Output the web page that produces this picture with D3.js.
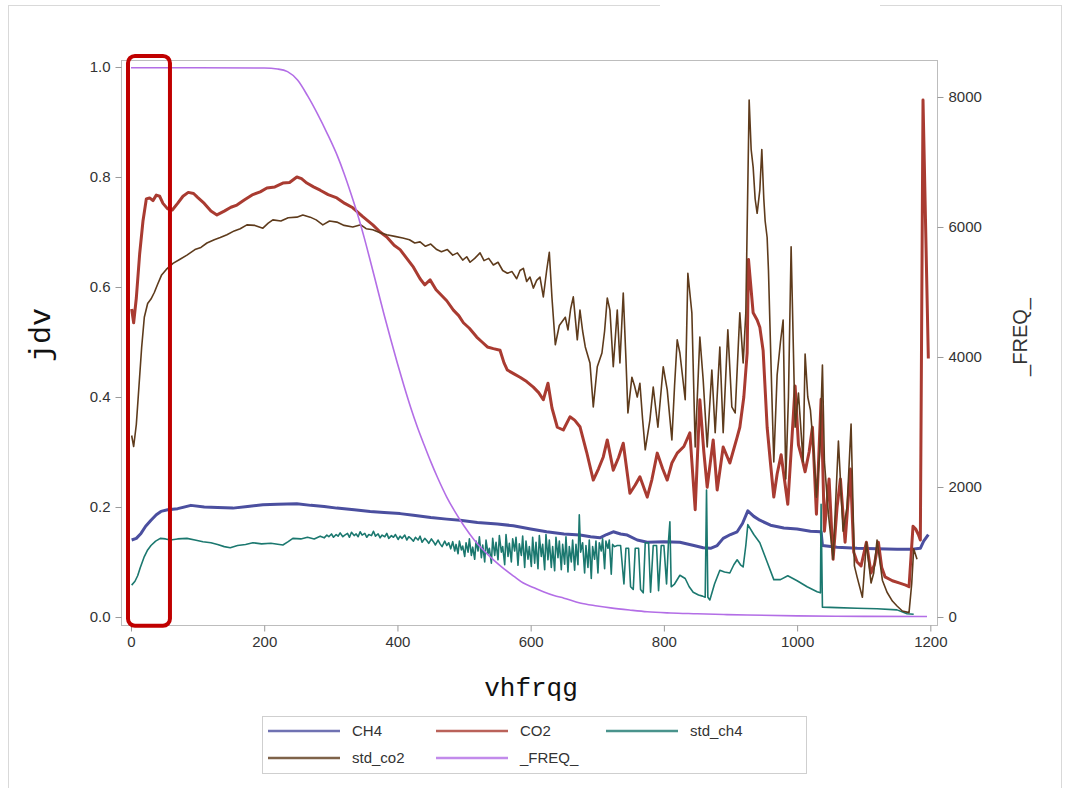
<!DOCTYPE html>
<html>
<head>
<meta charset="utf-8">
<script src="https://cdn.jsdelivr.net/npm/d3@7"></script>
<style>
  html, body { margin: 0; padding: 0; background: #fff; }
  .tick text { font-family: "Liberation Sans", Arial, sans-serif; font-size: 15px; fill: #333; }
  .tick line { stroke: #9a9a9a; }
  .domain { display: none; }
  .mono-title { font-family: "Liberation Mono", "Courier New", monospace; fill: #111; }
  .sans-title { font-family: "Liberation Sans", Arial, sans-serif; font-size: 20px; fill: #333; }
  .legend text { font-family: "Liberation Sans", Arial, sans-serif; font-size: 15px; fill: #333; }
  .series { fill: none; stroke-linejoin: round; }
</style>
</head>
<body>
<div id="chart"></div>
<script>
// SAS-style overlay: four gas series on the left axis, _FREQ_ on the right axis.
const xTicks = [0, 200, 400, 600, 800, 1000, 1200];
const yLeftTicks = [0, 0.2, 0.4, 0.6, 0.8, 1.0];
const yRightTicks = [0, 2000, 4000, 6000, 8000];

const ch4 = [[1,0.140],[8,0.143],[15,0.152],[22,0.165],[30,0.176],[38,0.186],[45,0.192],[55,0.195],[70,0.197],[90,0.203],[110,0.200],[130,0.199],[153,0.198],[175,0.201],[198,0.204],[220,0.205],[249,0.206],[270,0.203],[290,0.201],[309,0.198],[335,0.195],[359,0.192],[380,0.190],[404,0.188],[424,0.185],[450,0.181],[474,0.178],[494,0.176],[520,0.172],[550,0.169],[574,0.166],[600,0.160],[624,0.155],[650,0.151],[674,0.149],[690,0.146],[704,0.144],[714,0.150],[724,0.155],[735,0.151],[745,0.149],[760,0.140],[775,0.136],[800,0.137],[824,0.136],[845,0.130],[859,0.126],[870,0.125],[880,0.130],[889,0.143],[900,0.150],[910,0.155],[918,0.170],[926,0.193],[935,0.183],[944,0.176],[960,0.167],[980,0.162],[1000,0.160],[1020,0.156],[1036,0.155],[1038,0.130],[1060,0.127],[1090,0.125],[1120,0.124],[1150,0.123],[1170,0.123],[1185,0.125],[1190,0.138],[1197,0.150]];

const co2 = [[1,0.560],[4,0.535],[8,0.58],[13,0.66],[18,0.72],[23,0.760],[28,0.762],[33,0.757],[38,0.767],[43,0.765],[48,0.752],[55,0.742],[62,0.740],[70,0.752],[78,0.765],[86,0.772],[94,0.770],[100,0.763],[110,0.752],[120,0.738],[129,0.731],[140,0.738],[150,0.745],[159,0.749],[170,0.758],[183,0.768],[194,0.773],[204,0.780],[216,0.782],[228,0.789],[238,0.790],[249,0.800],[256,0.797],[264,0.789],[274,0.782],[284,0.776],[296,0.768],[309,0.762],[321,0.752],[333,0.744],[348,0.728],[363,0.713],[374,0.700],[384,0.691],[395,0.676],[404,0.668],[414,0.652],[424,0.636],[434,0.615],[441,0.604],[449,0.613],[458,0.595],[466,0.585],[474,0.575],[484,0.558],[492,0.548],[499,0.535],[508,0.525],[519,0.509],[527,0.500],[535,0.491],[544,0.488],[554,0.485],[560,0.462],[565,0.449],[575,0.442],[584,0.436],[594,0.428],[604,0.418],[612,0.408],[619,0.395],[626,0.425],[632,0.380],[640,0.345],[649,0.340],[659,0.364],[666,0.358],[674,0.346],[684,0.300],[694,0.249],[702,0.270],[709,0.291],[715,0.322],[724,0.267],[732,0.290],[739,0.316],[749,0.225],[757,0.240],[764,0.255],[775,0.218],[782,0.250],[790,0.298],[798,0.270],[805,0.249],[812,0.280],[820,0.298],[830,0.310],[839,0.335],[847,0.195],[854,0.395],[860,0.300],[865,0.236],[874,0.322],[880,0.231],[889,0.309],[899,0.280],[910,0.327],[914,0.345],[920,0.400],[925,0.480],[927,0.650],[934,0.553],[940,0.540],[944,0.527],[949,0.484],[955,0.345],[960,0.280],[965,0.218],[970,0.260],[976,0.295],[981,0.250],[986,0.205],[992,0.320],[997,0.420],[1002,0.313],[1007,0.290],[1012,0.264],[1018,0.300],[1023,0.345],[1029,0.187],[1036,0.396],[1041,0.156],[1048,0.251],[1054,0.105],[1060,0.200],[1065,0.251],[1072,0.136],[1080,0.269],[1085,0.118],[1090,0.100],[1096,0.093],[1104,0.136],[1111,0.080],[1116,0.095],[1122,0.136],[1127,0.090],[1132,0.073],[1143,0.066],[1153,0.062],[1163,0.058],[1168,0.055],[1171,0.110],[1174,0.165],[1178,0.160],[1182,0.150],[1185,0.140],[1189,0.940],[1197,0.470]];

const stdCh4 = [[1,0.058],[6,0.065],[10,0.075],[14,0.090],[20,0.110],[25,0.122],[30,0.130],[37,0.138],[44,0.143],[52,0.142],[59,0.140],[70,0.142],[84,0.143],[96,0.140],[108,0.137],[120,0.135],[130,0.132],[140,0.128],[149,0.126],[160,0.130],[172,0.132],[183,0.135],[196,0.133],[210,0.134],[228,0.131],[236,0.137],[243,0.143],[255,0.142],[265,0.145],[275,0.142],[284,0.147],
  [290,0.144],[294,0.149],[297,0.146],[301,0.151],[304,0.145],[308,0.150],[311,0.147],[314,0.153],[318,0.146],[321,0.149],[325,0.152],[328,0.145],[331,0.154],[335,0.148],[338,0.151],[341,0.146],[344,0.155],[347,0.149],[351,0.152],[354,0.145],[357,0.150],[361,0.148],[364,0.156],[367,0.147],[371,0.151],[374,0.144],[377,0.149],[381,0.146],[384,0.152],[387,0.143],[391,0.148],[394,0.145],[397,0.150],[401,0.141],[404,0.147],[407,0.143],[411,0.149],[414,0.140],[417,0.146],[421,0.142],[424,0.138],[427,0.145],[431,0.140],[434,0.147],[437,0.136],[441,0.143],[444,0.139],[447,0.134],[451,0.142],[454,0.137],[457,0.131],[461,0.140],[464,0.133],[467,0.128],[471,0.138],[474,0.130],[477,0.135],[480,0.124],
  [483,0.137],[486,0.120],[488,0.132],[491,0.115],[493,0.138],[496,0.122],[498,0.129],[501,0.110],[503,0.135],[506,0.118],[508,0.142],[511,0.112],[513,0.127],[516,0.105],[518,0.138],[521,0.120],[523,0.146],[526,0.108],[528,0.131],[531,0.100],[533,0.140],[536,0.115],[538,0.125],[541,0.098],[543,0.143],[546,0.112],[548,0.136],[551,0.104],[553,0.148],[556,0.118],[558,0.128],[561,0.095],[563,0.150],[566,0.110],[568,0.134],[571,0.100],[573,0.142],[576,0.120],[578,0.145],[581,0.094],[583,0.133],[586,0.112],[588,0.147],[591,0.090],[593,0.138],[596,0.105],[598,0.128],[601,0.092],[603,0.145],
  [606,0.098],[608,0.136],[611,0.088],[613,0.148],[616,0.110],[618,0.132],[621,0.086],[623,0.150],[626,0.104],[628,0.140],[631,0.090],[633,0.128],[636,0.084],[638,0.145],[641,0.108],[643,0.138],[646,0.086],[648,0.132],[651,0.096],[653,0.146],[656,0.082],[658,0.128],[661,0.100],[663,0.140],[666,0.085],[668,0.132],[671,0.095],[673,0.186],[675,0.118],[678,0.135],[681,0.080],[683,0.130],[686,0.090],[688,0.140],[691,0.070],[693,0.128],[696,0.105],[698,0.138],[701,0.080],[703,0.135],[706,0.120],[708,0.142],[711,0.088],[713,0.138],[716,0.125],[718,0.140],[721,0.078],[723,0.132],[726,0.128],[730,0.130],[735,0.130],
  [740,0.060],[743,0.125],[747,0.125],[750,0.055],[754,0.050],[757,0.125],[762,0.125],[765,0.050],[769,0.044],[772,0.135],[777,0.135],[780,0.045],[784,0.130],[789,0.130],[792,0.048],[796,0.130],[800,0.130],[804,0.060],[807,0.140],[809,0.173],[811,0.055],[816,0.060],[824,0.076],[832,0.070],[838,0.055],[844,0.045],[852,0.040],[858,0.038],[862,0.036],[864,0.231],[866,0.036],[869,0.031],[876,0.060],[884,0.085],[891,0.082],[899,0.080],[905,0.095],[910,0.104],[915,0.095],[919,0.091],[923,0.130],[926,0.168],[935,0.150],[944,0.135],[955,0.100],[965,0.068],[975,0.068],[986,0.075],[1000,0.066],[1015,0.055],[1030,0.046],[1035,0.044],[1036,0.205],[1038,0.018],[1060,0.017],[1090,0.016],[1120,0.015],[1150,0.013],[1165,0.006],[1175,0.005]];

const stdCo2 = [[1,0.330],[4,0.310],[8,0.350],[12,0.420],[16,0.490],[20,0.545],[25,0.570],[30,0.578],[35,0.590],[40,0.605],[46,0.622],[53,0.632],[63,0.643],[73,0.650],[84,0.658],[96,0.668],[105,0.672],[114,0.680],[125,0.686],[134,0.690],[144,0.695],[155,0.702],[164,0.706],[174,0.713],[186,0.712],[198,0.707],[206,0.716],[213,0.722],[225,0.720],[236,0.726],[249,0.727],[258,0.731],[269,0.727],[278,0.722],[288,0.713],[298,0.720],[309,0.718],[320,0.712],[333,0.709],[345,0.713],[353,0.706],[363,0.704],[373,0.699],[384,0.695],[396,0.692],[408,0.689],[418,0.686],[426,0.680],[434,0.682],[442,0.674],[450,0.678],[459,0.668],[466,0.664],[475,0.668],[483,0.658],[490,0.662],[498,0.649],[504,0.655],[509,0.645],[516,0.652],[524,0.662],[530,0.648],[537,0.652],[544,0.640],[551,0.645],[558,0.630],[565,0.625],[572,0.628],[579,0.615],[584,0.630],[589,0.634],[594,0.610],[599,0.618],[604,0.598],[609,0.612],[614,0.618],[619,0.582],[624,0.630],[628,0.663],[632,0.580],[637,0.495],[643,0.530],[649,0.540],[652,0.545],[656,0.522],[660,0.560],[664,0.582],[670,0.504],[674,0.558],[678,0.520],[682,0.491],[689,0.462],[694,0.382],[700,0.455],[707,0.480],[711,0.520],[715,0.580],[719,0.558],[724,0.455],[730,0.558],[734,0.462],[739,0.589],[743,0.470],[746,0.371],[752,0.436],[756,0.420],[760,0.400],[764,0.425],[768,0.360],[772,0.304],[779,0.358],[784,0.418],[791,0.345],[799,0.455],[805,0.413],[812,0.322],[816,0.420],[820,0.504],[824,0.480],[832,0.395],[836,0.625],[842,0.553],[847,0.309],[854,0.509],[859,0.431],[865,0.309],[872,0.449],[877,0.335],[884,0.491],[889,0.335],[896,0.522],[902,0.382],[907,0.371],[914,0.553],[919,0.462],[923,0.553],[928,0.940],[931,0.850],[934,0.818],[937,0.760],[940,0.734],[944,0.776],[947,0.850],[950,0.760],[952,0.720],[955,0.690],[957,0.630],[962,0.407],[965,0.282],[970,0.440],[975,0.500],[979,0.540],[983,0.251],[987,0.400],[991,0.673],[997,0.345],[1002,0.407],[1009,0.282],[1012,0.478],[1016,0.400],[1020,0.376],[1025,0.300],[1029,0.218],[1034,0.300],[1038,0.458],[1041,0.282],[1047,0.187],[1054,0.105],[1062,0.320],[1069,0.156],[1075,0.200],[1081,0.351],[1086,0.093],[1090,0.073],[1098,0.036],[1104,0.136],[1111,0.062],[1115,0.080],[1120,0.140],[1128,0.067],[1135,0.045],[1143,0.029],[1150,0.020],[1158,0.011],[1168,0.008],[1172,0.060],[1175,0.124],[1180,0.105]];

const freq = [[0,8450],[100,8450],[200,8445],[220,8430],[235,8390],[250,8260],[265,8020],[280,7740],[295,7430],[310,7090],[320,6820],[330,6520],[340,6200],[350,5840],[360,5450],[370,5050],[380,4650],[390,4270],[400,3900],[410,3550],[420,3220],[430,2920],[440,2650],[450,2390],[460,2150],[474,1846],[487,1610],[500,1400],[515,1190],[530,1020],[545,870],[560,740],[575,625],[589,523],[605,450],[620,385],[635,330],[650,290],[674,215],[700,170],[720,140],[750,105],[775,80],[810,62],[850,50],[890,38],[925,30],[1000,18],[1100,10],[1195,8]];

const series = [
  { name: "CH4", data: ch4, axis: "L", color: "#4b4f9f", width: 3 },
  { name: "CO2", data: co2, axis: "L", color: "#a93b31", width: 3 },
  { name: "std_ch4", data: stdCh4, axis: "L", color: "#1b786f", width: 1.6 },
  { name: "std_co2", data: stdCo2, axis: "L", color: "#5e3b1c", width: 1.6 },
  { name: "_FREQ_", data: freq, axis: "R", color: "#b36ee6", width: 1.6, smooth: true }
];
const legendOrder = ["CH4", "CO2", "std_ch4", "std_co2", "_FREQ_"];

const W = 1068, H = 788;
const plot = { left: 121, top: 60, right: 937, bottom: 625 };

const x = d3.scaleLinear([-15, 1210], [plot.left, plot.right]);
const yL = d3.scaleLinear([-0.0145, 1.0127], [plot.bottom, plot.top]);
const yR = d3.scaleLinear([-123, 8569], [plot.bottom, plot.top]);

const svg = d3.select("#chart").append("svg")
  .attr("width", W).attr("height", H)
  .attr("viewBox", `0 0 ${W} ${H}`);

// outer page frame
svg.append("rect").attr("x", 8.5).attr("y", 5.5).attr("width", 1053).attr("height", 790)
  .attr("fill", "none").attr("stroke", "#d9d9d9");
svg.append("rect").attr("x", 660).attr("y", 0).attr("width", 220).attr("height", 12).attr("fill", "#fff");

// plot frame
svg.append("rect")
  .attr("x", plot.left + 0.5).attr("y", plot.top + 0.5)
  .attr("width", plot.right - plot.left).attr("height", plot.bottom - plot.top)
  .attr("fill", "#fff").attr("stroke", "#bdbdbd");

svg.append("g").attr("transform", `translate(0,${plot.bottom + 0.5})`)
  .call(d3.axisBottom(x).tickValues(xTicks).tickSize(6).tickPadding(5).tickFormat(d3.format("d")));
svg.append("g").attr("transform", `translate(${plot.left + 0.5},0)`)
  .call(d3.axisLeft(yL).tickValues(yLeftTicks).tickSize(6).tickPadding(5).tickFormat(d3.format(".1f")));
svg.append("g").attr("transform", `translate(${plot.right + 0.5},0)`)
  .call(d3.axisRight(yR).tickValues(yRightTicks).tickSize(6).tickPadding(5).tickFormat(d3.format("d")));

svg.append("defs").append("clipPath").attr("id", "plot-clip").append("rect")
  .attr("x", plot.left + 1).attr("y", plot.top + 1)
  .attr("width", plot.right - plot.left - 1).attr("height", plot.bottom - plot.top - 1);

const lines = svg.append("g").attr("clip-path", "url(#plot-clip)");
for (const s of series) {
  const yy = s.axis === "L" ? yL : yR;
  const gen = d3.line().x((d) => x(d[0])).y((d) => yy(d[1]));
  if (s.smooth) gen.curve(d3.curveMonotoneX);
  lines.append("path").datum(s.data).attr("class", "series")
    .attr("stroke", s.color).attr("stroke-width", s.width)
    .attr("d", gen);
}

// axis titles
svg.append("text").attr("class", "mono-title").attr("text-anchor", "middle")
  .style("font-size", "26px")
  .attr("x", 531).attr("y", 696).text("vhfrqg");
svg.append("text").attr("class", "mono-title").attr("text-anchor", "middle")
  .style("font-size", "30px")
  .attr("transform", `translate(50,335) rotate(-90)`).text("jdv");
svg.append("text").attr("class", "sans-title").attr("text-anchor", "middle")
  .attr("transform", `translate(1027,337) rotate(-90)`).text("_FREQ_");

// legend
const lg = svg.append("g").attr("class", "legend");
lg.append("rect").attr("x", 262.5).attr("y", 716.5).attr("width", 544).attr("height", 57)
  .attr("fill", "#fff").attr("stroke", "#cfcfcf");
const colX = [268, 436, 606];
legendOrder.forEach((name, i) => {
  const s = series.find((d) => d.name === name);
  const cx = colX[i % 3], cy = 731 + Math.floor(i / 3) * 27;
  lg.append("line").attr("x1", cx).attr("x2", cx + 72).attr("y1", cy).attr("y2", cy)
    .attr("stroke", s.color).attr("stroke-width", 2.5).attr("stroke-opacity", 0.8);
  lg.append("text").attr("x", cx + 84).attr("y", cy + 5).text(name);
});

// red highlight box around the ramp-up region
svg.append("rect")
  .attr("x", x(-4.5)).attr("y", yL(1.02))
  .attr("width", x(58.5) - x(-4.5)).attr("height", yL(-0.016) - yL(1.02))
  .attr("rx", 7).attr("fill", "none").attr("stroke", "#c00000").attr("stroke-width", 4);
</script>
</body>
</html>
